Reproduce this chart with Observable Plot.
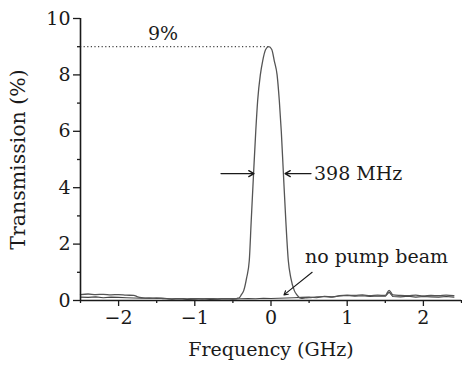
<!DOCTYPE html>
<html>
<head>
<meta charset="utf-8">
<script src="https://cdn.jsdelivr.net/npm/d3@7"></script>
<script src="https://cdn.jsdelivr.net/npm/@observablehq/plot@0.6"></script>
<style>
  html, body { margin: 0; padding: 0; background: #fff; }
</style>
</head>
<body>
<div id="chart"></div>
<script>
// Transmission with pump beam (GHz, %)
const pumpFreq = [-2.5, -2.4, -2.3, -2.2, -2.1, -2.0, -1.9, -1.8, -1.75, -1.7, -1.6, -1.5, -1.4, -1.3, -1.2, -1.1, -1.0, -0.9, -0.8, -0.7, -0.6, -0.5,
  -0.46, -0.44, -0.416, -0.39, -0.358, -0.32, -0.285, -0.26, -0.227, -0.2, -0.175, -0.14, -0.109, -0.07, -0.03, 0.01, 0.043, 0.08, 0.109, 0.135, 0.161, 0.195, 0.227, 0.26, 0.306, 0.34, 0.371, 0.4,
  0.45, 0.5, 0.6, 0.7, 0.8, 0.9, 1.0, 1.1, 1.2, 1.3, 1.4, 1.5, 1.55, 1.6, 1.7, 1.8, 1.9, 2.0, 2.1, 2.2, 2.3, 2.4];
const pumpTrans = [0.21, 0.23, 0.21, 0.22, 0.2, 0.21, 0.19, 0.18, 0.13, 0.1, 0.08, 0.09, 0.07, 0.06, 0.07, 0.06, 0.07, 0.06, 0.07, 0.06, 0.07, 0.07,
  0.07, 0.08, 0.1, 0.2, 0.35, 0.8, 1.42, 2.8, 4.6, 6.0, 7.09, 8.0, 8.5, 8.9, 9.0, 8.9, 8.5, 8.0, 7.09, 6.0, 4.6, 2.8, 1.42, 0.8, 0.35, 0.2, 0.1, 0.08,
  0.09, 0.1, 0.13, 0.14, 0.12, 0.17, 0.19, 0.18, 0.2, 0.17, 0.19, 0.18, 0.36, 0.2, 0.18, 0.17, 0.19, 0.16, 0.18, 0.17, 0.19, 0.17];

// Transmission without pump beam
const noPumpFreq = [-2.5, -2.4, -2.3, -2.2, -2.1, -2.0, -1.9, -1.8, -1.7, -1.6, -1.5, -1.4, -1.3, -1.2, -1.1, -1.0, -0.9, -0.8, -0.7, -0.6, -0.5, -0.4, -0.3, -0.2, -0.1, 0.0, 0.1, 0.2, 0.3, 0.4, 0.5, 0.6, 0.7, 0.8, 0.9, 1.0, 1.1, 1.2, 1.3, 1.4, 1.5, 1.55, 1.6, 1.7, 1.8, 1.9, 2.0, 2.1, 2.2, 2.3, 2.4];
const noPumpTrans = [0.12, 0.11, 0.13, 0.1, 0.12, 0.11, 0.1, 0.09, 0.08, 0.09, 0.07, 0.08, 0.05, 0.06, 0.04, 0.05, 0.06, 0.04, 0.05, 0.06, 0.05, 0.06, 0.07, 0.06, 0.08, 0.07, 0.08, 0.09, 0.1, 0.11, 0.12, 0.1, 0.15, 0.13, 0.16, 0.18, 0.15, 0.17, 0.14, 0.16, 0.15, 0.3, 0.14, 0.13, 0.15, 0.12, 0.14, 0.13, 0.12, 0.14, 0.12];

const xTicks = [-2, -1, 0, 1, 2];
const xMinor = [-2.5, -1.5, -0.5, 0.5, 1.5, 2.5];
const yTicks = [0, 2, 4, 6, 8, 10];
const yMinor = [1, 3, 5, 7, 9];

const peakFreq = -0.03;
const peakValue = 9;
const fwhmLeft = [-0.656, -0.223];
const fwhmRight = [0.525, 0.184];
const halfMax = 4.5;
const noPumpArrow = {x1: 0.54, y1: 1.0, x2: 0.17, y2: 0.2};

const labels = [
  {x: -1.417, y: 9.47, text: "9%", anchor: "middle"},
  {x: 0.564, y: 4.5, text: "398 MHz", anchor: "start"},
  {x: 0.446, y: 1.56, text: "no pump beam", anchor: "start"}
];

const pump = pumpFreq.map((f, i) => ({f, t: pumpTrans[i]}));
const noPump = noPumpFreq.map((f, i) => ({f, t: noPumpTrans[i]}));

const fontFamily = "DejaVu Serif, serif";
const ink = "#1a1a1a";

const chart = Plot.plot({
  width: 462,
  height: 368,
  marginLeft: 80,
  marginRight: 1,
  marginTop: 18,
  marginBottom: 68,
  style: {fontFamily, fontSize: "19px", color: ink, background: "#fff"},
  x: {domain: [-2.5, 2.5]},
  y: {domain: [0, 10]},
  marks: [
    Plot.axisX({ticks: xTicks, tickSize: 6, tickPadding: 4, tickFormat: d => d < 0 ? "\u2212" + Math.abs(d) : String(d), label: null, stroke: ink, strokeWidth: 1.3}),
    Plot.axisX({ticks: xMinor, tickSize: 3, tickFormat: () => "", label: null, stroke: ink, strokeWidth: 1.3}),
    Plot.axisY({ticks: yTicks, tickSize: 7, tickPadding: 3, label: null, stroke: ink, strokeWidth: 1.3}),
    Plot.axisY({ticks: yMinor, tickSize: 3, tickFormat: () => "", label: null, stroke: ink, strokeWidth: 1.3}),
    Plot.ruleY([peakValue], {x1: -2.5, x2: peakFreq, stroke: "#444", strokeWidth: 1.2, strokeDasharray: "1.2,2.4"}),
    Plot.line(noPump, {x: "f", y: "t", stroke: "#444", strokeWidth: 1.1}),
    Plot.line(pump, {x: "f", y: "t", stroke: "#555", strokeWidth: 1.3, curve: "monotone-x"}),
    Plot.ruleX([-2.5], {stroke: ink, strokeWidth: 1.6}),
    Plot.ruleY([0], {stroke: ink, strokeWidth: 1.6}),
    Plot.arrow([{x1: fwhmLeft[0], x2: fwhmLeft[1], y: halfMax}], {x1: "x1", x2: "x2", y1: "y", y2: "y", stroke: ink, strokeWidth: 1.3, headLength: 7}),
    Plot.arrow([{x1: fwhmRight[0], x2: fwhmRight[1], y: halfMax}], {x1: "x1", x2: "x2", y1: "y", y2: "y", stroke: ink, strokeWidth: 1.3, headLength: 7}),
    Plot.arrow([noPumpArrow], {x1: "x1", y1: "y1", x2: "x2", y2: "y2", stroke: ink, strokeWidth: 1.1, headLength: 6}),
    Plot.text(labels.filter(d => d.anchor === "middle"), {x: "x", y: "y", text: "text", textAnchor: "middle", fontSize: 19, fill: ink}),
    Plot.text(labels.filter(d => d.anchor === "start"), {x: "x", y: "y", text: "text", textAnchor: "start", fontSize: 19, fill: ink}),
    Plot.text(["Frequency (GHz)"], {frameAnchor: "bottom", textAnchor: "middle", dy: 55, fontSize: 19, fill: ink}),
    Plot.text(["Transmission (%)"], {frameAnchor: "left", textAnchor: "middle", dx: -62, rotate: -90, fontSize: 20.5, fill: ink})
  ]
});
document.getElementById("chart").appendChild(chart);
</script>
</body>
</html>
